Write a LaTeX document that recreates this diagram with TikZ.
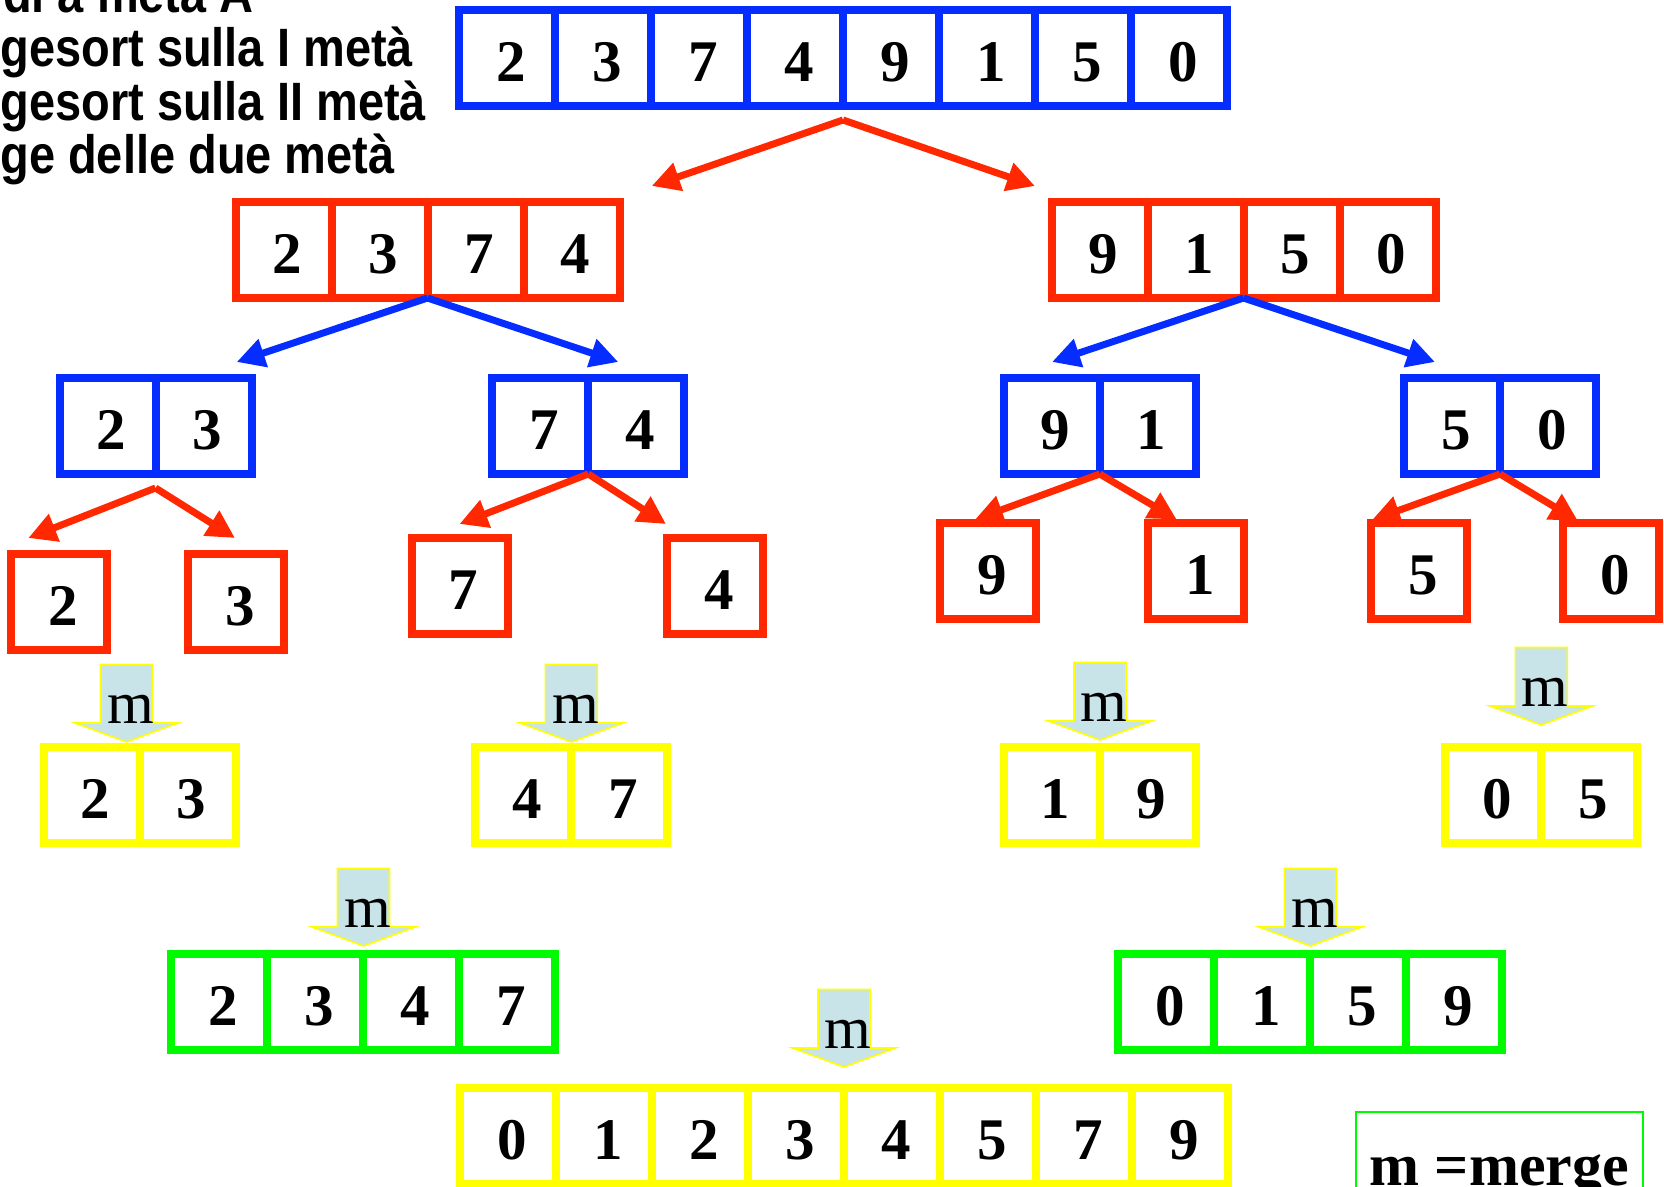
\documentclass[tikz,border=0pt]{standalone}
\usepackage{fontspec}
\setmainfont{Liberation Serif}
\newfontfamily\notefont[FakeStretch=0.87]{Liberation Sans}
\usetikzlibrary{arrows.meta}

\definecolor{bluA}{RGB}{5,45,255}
\definecolor{rossoA}{RGB}{255,40,0}
\definecolor{gialloA}{RGB}{255,255,0}
\definecolor{verdeA}{RGB}{0,250,0}
\definecolor{azzurroA}{RGB}{200,228,233}

\tikzset{
  cella/.style={draw, line width=4pt, minimum size=48pt, inner sep=0pt, outer sep=0pt,
    text height=23.5pt, text depth=0pt, execute at begin node={\hspace*{4pt}},
    font=\fontsize{29.5}{30}\selectfont\bfseries},
  divisione/.style={line width=3.5pt, -{Triangle[length=14pt,width=14pt]}},
  fusione/.style={fill=azzurroA, draw=gialloA, line width=0.8pt},
  etichettam/.style={anchor=base, inner sep=0pt, font=\fontsize{30}{30}\selectfont},
  nota/.style={anchor=base west, inner sep=0pt, font=\notefont\bfseries\fontsize{27}{27}\selectfont},
  legenda/.style={draw=verdeA, line width=1pt, anchor=base, inner sep=0pt, minimum width=143.5pt,
    text height=36.75pt, text depth=24pt, font=\fontsize{30}{30}\selectfont\bfseries}
}

\begin{document}
\begin{tikzpicture}[x=0.5pt, y=-0.5pt]
  \useasboundingbox (0,0) rectangle (1664,1187);
  \clip (0,0) rectangle (1664,1187);

  % Testo in alto a sinistra
  \node[nota] (riga0) at (-83.5,13) {Dividi a metà A};
  \node[nota] (riga1) at (-83.5,67) {Mergesort sulla I metà};
  \node[nota] (riga2) at (-83.5,121) {Mergesort sulla II metà};
  \node[nota] (riga3) at (-83.5,174) {Merge delle due metà};

  % Punte delle frecce
  \coordinate (e1) at (651.7,186);
  \coordinate (e2) at (1035,186);
  \coordinate (e3) at (236.7,362);
  \coordinate (e4) at (618.3,362);
  \coordinate (e5) at (1052,362);
  \coordinate (e6) at (1435,362);
  \coordinate (e7) at (28.3,538);
  \coordinate (e8) at (235,538);
  \coordinate (e9) at (459.5,524);
  \coordinate (e10) at (666,524);
  \coordinate (e11) at (975,519.5);
  \coordinate (e12) at (1176.7,519.5);
  \coordinate (e13) at (1372,520);
  \coordinate (e14) at (1578,521);

  % Array iniziale
  \foreach \d [count=\i] in {2,3,7,4,9,1,5,0}
    \node[cella, draw=bluA] (top\i) at ({411+96*\i},58.5) {\d};

  % Prima divisione
  \foreach \d [count=\i] in {2,3,7,4}
    \node[cella, draw=rossoA] (sx\i) at ({187.5+96*\i},250) {\d};
  \foreach \d [count=\i] in {9,1,5,0}
    \node[cella, draw=rossoA] (dx\i) at ({1003.5+96*\i},250) {\d};

  % Coppie
  \foreach \L/\a/\b [count=\k] in {59.5/2/3, 492.3/7/4, 1003.7/9/1, 1404/5/0} {
    \node[cella, draw=bluA] (b\k-l) at ({\L+48},426) {\a};
    \node[cella, draw=bluA] (b\k-r) at ({\L+144},426) {\b};
  }

  % Elementi singoli
  \foreach \x/\y/\d [count=\i] in {11.3/554/2, 188.3/554/3, 411.7/538/7, 667.4/538/4,
      940/523/9, 1148/523/1, 1371/523/5, 1563/523/0}
    \node[cella, draw=rossoA] (s\i) at ({\x+48},{\y+48}) {\d};

  % Frecce di divisione
  \draw[divisione, rossoA] ([yshift=-6.75pt]top4.south east) -- (e1);
  \draw[divisione, rossoA] ([yshift=-6.75pt]top4.south east) -- (e2);
  \draw[divisione, bluA] (sx2.south east) -- (e3);
  \draw[divisione, bluA] (sx2.south east) -- (e4);
  \draw[divisione, bluA] (dx2.south east) -- (e5);
  \draw[divisione, bluA] (dx2.south east) -- (e6);
  \draw[divisione, rossoA] ([yshift=-7pt]b1-l.south east) -- (e7);
  \draw[divisione, rossoA] ([yshift=-7pt]b1-l.south east) -- (e8);
  \draw[divisione, rossoA] (b2-l.south east) -- (e9);
  \draw[divisione, rossoA] (b2-l.south east) -- (e10);
  \draw[divisione, rossoA] (b3-l.south east) -- (e11);
  \draw[divisione, rossoA] (b3-l.south east) -- (e12);
  \draw[divisione, rossoA] (b4-l.south east) -- (e13);
  \draw[divisione, rossoA] (b4-l.south east) -- (e14);

  % Frecce di merge
  \foreach \x/\y [count=\i] in {126.5/742, 571.4/742, 1100/740, 1541.3/725,
      363.5/946, 1310.4/946, 844/1067} {
    \draw[fusione] (\x,\y) -- ++(-51.5,-19) -- ++(25.5,0) -- ++(0,-58.5)
      -- ++(52,0) -- ++(0,58.5) -- ++(25.5,0) -- cycle;
    \node[etichettam] (m\i) at ({\x+4},{\y-19}) {m};
  }

  % Coppie ordinate
  \foreach \L/\a/\b [count=\k] in {43.7/2/3, 475.4/4/7, 1003.7/1/9, 1445.3/0/5} {
    \node[cella, draw=gialloA] (g\k-l) at ({\L+48},794.7) {\a};
    \node[cella, draw=gialloA] (g\k-r) at ({\L+144},794.7) {\b};
  }

  % Meta ordinate
  \foreach \d [count=\i] in {2,3,4,7}
    \node[cella, draw=verdeA] (v\i) at ({123.3+96*\i},1002) {\d};
  \foreach \d [count=\i] in {0,1,5,9}
    \node[cella, draw=verdeA] (w\i) at ({1070.4+96*\i},1002) {\d};

  % Array finale
  \foreach \d [count=\i] in {0,1,2,3,4,5,7,9}
    \node[cella, draw=gialloA] (fin\i) at ({412+96*\i},1136) {\d};

  % Legenda
  \node[legenda] (leg) at (1499.5,1185) {m =merge};
\end{tikzpicture}
\end{document}
